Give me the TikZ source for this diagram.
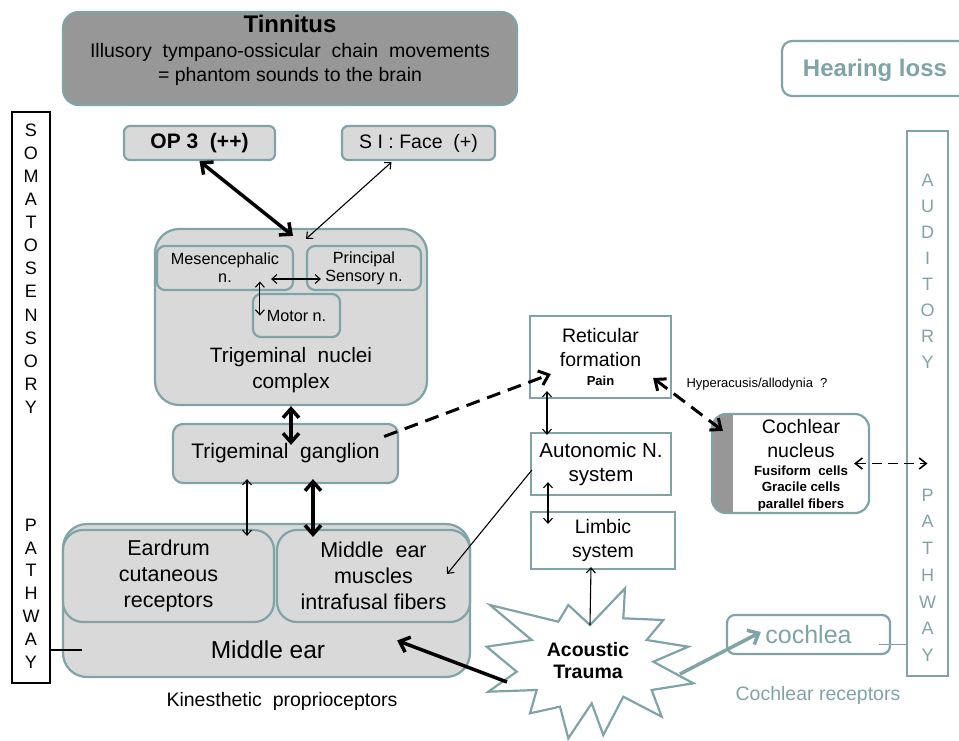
\documentclass[tikz,border=0pt]{standalone}
\usepackage{fontspec}
\setmainfont{Liberation Sans}
\usetikzlibrary{arrows.meta,positioning,calc}
\definecolor{tealg}{HTML}{7FA3A6}
\definecolor{boxgray}{HTML}{D9D9D9}
\definecolor{tbdark}{HTML}{979797}
\newcommand{\setfs}[2]{\fontsize{#1}{#2}\selectfont}

\begin{document}
\begin{tikzpicture}[x=1pt,y=-1pt,
gbox/.style={draw=tealg,fill=boxgray,line width=2.2pt,rounded corners=8pt,align=center,inner sep=0pt},
wbox/.style={draw=tealg,fill=white,line width=2.2pt,align=center,inner sep=0pt},
lbl/.style={align=center,inner sep=0pt},
arr/.style={-{Straight Barb[length=5pt,width=9pt]},line width=1.1pt},
dbl/.style={{Straight Barb[length=5pt,width=9pt]}-{Straight Barb[length=5pt,width=9pt]},line width=1.1pt},
arrthk/.style={-{Straight Barb[length=9pt,width=16pt]},line width=3.5pt},
dblthk/.style={{Straight Barb[length=9pt,width=16pt]}-{Straight Barb[length=9pt,width=16pt]},line width=3.5pt},
dasharr/.style={-{Straight Barb[length=9pt,width=15pt]},line width=3pt,dash pattern=on 14pt off 8pt}
]
\useasboundingbox (0,0) rectangle (959,740);

% top row
\node[gbox,fill=tbdark,rounded corners=16pt,minimum width=454pt,minimum height=93pt] (tinnitus) at (290,58.5) {};
\node[lbl,font=\setfs{19.5}{24}] (tintext) at (290,50) {{\setfs{24}{24}\bfseries Tinnitus}\\[1pt]Illusory~ tympano-ossicular~ chain~ movements\\= phantom sounds to the brain};
\node[gbox,rounded corners=6pt,minimum width=151pt,minimum height=34pt,font=\setfs{21}{24}\bfseries] (op3) at (199.5,143) {OP 3~ (++)};
\node[gbox,rounded corners=6pt,minimum width=153pt,minimum height=34pt,font=\setfs{19.5}{22}] (siface) at (418.5,143) {S I : Face~ (+)};
\node[wbox,rounded corners=10pt,minimum width=205pt,minimum height=55pt,text=tealg] (hearloss) at (884.5,68.5) {};
\node[lbl,font=\setfs{24}{26}\bfseries,text=tealg] (hltext) at (875,70) {Hearing loss};

% trigeminal nuclei
\node[gbox,rounded corners=24pt,minimum width=272pt,minimum height=176pt] (tcomplex) at (291,317) {};
\node[gbox,minimum width=136pt,minimum height=44pt,font=\setfs{16.2}{18}] (mesen) at (225,268) {Mesencephalic\\n.};
\node[gbox,minimum width=114pt,minimum height=44pt,font=\setfs{16.2}{18}] (princ) at (364,268) {Principal\\Sensory n.};
\node[gbox,minimum width=87pt,minimum height=43pt,font=\setfs{16.2}{18}] (motor) at (296.5,315.5) {Motor n.};
\node[lbl,font=\setfs{20.8}{26}] (tctext) at (291,370) {Trigeminal~ nuclei\\complex};
\node[gbox,rounded corners=10pt,minimum width=225pt,minimum height=59pt,font=\setfs{21}{24}] (ganglion) at (285.5,453.5) {Trigeminal~ ganglion};

% middle ear
\node[gbox,rounded corners=24pt,minimum width=407pt,minimum height=153pt] (midear) at (266.5,600.5) {};
\node[gbox,rounded corners=20pt,minimum width=211pt,minimum height=92pt,font=\setfs{21.5}{26}] (eardrum) at (168.5,576) {Eardrum\\cutaneous\\receptors};
\node[gbox,rounded corners=20pt,minimum width=193pt,minimum height=92pt,font=\setfs{21.5}{26}] (muscles) at (373.5,576) {Middle~ ear\\muscles\\intrafusal fibers};
\node[lbl,font=\setfs{24.5}{26}] (metext) at (268,650) {Middle ear};
\node[lbl,font=\setfs{19.5}{22}] (kinesth) at (282,701) {Kinesthetic~ proprioceptors};

% pathways
\node[draw,line width=1.5pt,minimum width=38pt,minimum height=571pt] (somato) at (31,397.5) {};
\foreach \l [count=\i] in {S,O,M,A,T,O,S,E,N,S,O,R,Y}
  \node[lbl,font=\setfs{18}{20}] (soma\i) at (31,{130+23.1*(\i-1)}) {\l};
\foreach \l [count=\i] in {P,A,T,H,W,A,Y}
  \node[lbl,font=\setfs{18}{20}] (somb\i) at (31,{525+22.8*(\i-1)}) {\l};
\node[draw=tealg,line width=1.5pt,minimum width=41pt,minimum height=545pt] (audit) at (927.5,403.5) {};
\foreach \l [count=\i] in {A,U,D,I,T,O,R,Y}
  \node[lbl,font=\setfs{18}{20},text=tealg] (auda\i) at (927.5,{180+26.1*(\i-1)}) {\l};
\foreach \l [count=\i] in {P,A,T,H,W,A,Y}
  \node[lbl,font=\setfs{18}{20},text=tealg] (audb\i) at (927.5,{495+26.7*(\i-1)}) {\l};

% brainstem boxes
\node[wbox,minimum width=141pt,minimum height=82pt,font=\setfs{19.5}{24}] (retic) at (600.5,357) {Reticular\\formation\\[-5pt]{\setfs{13}{14}\bfseries Pain}};
\node[wbox,minimum width=140pt,minimum height=62pt,font=\setfs{20.5}{24}] (auton) at (601,464) {Autonomic N.\\system};
\node[wbox,minimum width=144pt,minimum height=57pt,font=\setfs{19.5}{24}] (limbic) at (603,540.5) {Limbic\\system};
\node[wbox,rounded corners=14pt,minimum width=157pt,minimum height=99pt,
  path picture={\fill[tbdark,sharp corners] (path picture bounding box.north west) rectangle ([xshift=21pt]path picture bounding box.south west);}] (cochnuc) at (790.5,463.5) {};
\node[lbl,font=\setfs{13.3}{16.5}\bfseries] (cntext) at (801,465) {{\setfs{19.5}{24}\mdseries Cochlear}\\[8pt]{\setfs{19.5}{24}\mdseries nucleus}\\[1pt]Fusiform~ cells\\Gracile cells\\parallel fibers};
\node[lbl,font=\setfs{13}{14}] (hyper) at (757,384) {Hyperacusis/allodynia~ ?};

% cochlea
\node[wbox,rounded corners=8pt,minimum width=163pt,minimum height=39pt,font=\setfs{25}{26},text=tealg] (cochlea) at (808.5,634.5) {cochlea};
\node[lbl,font=\setfs{19.5}{22},text=tealg] (cochrec) at (818,695) {Cochlear receptors};

% acoustic trauma
\draw[tealg,line width=2.2pt,fill=white,line join=miter] plot coordinates {(490,605) (558.3,621.7) (568.3,605) (590,625) (625,588.3) (623.3,618.3) (663.3,620) (646.7,640) (688.3,646.7) (653.3,661.7) (693.3,683.3) (651.7,690) (661.7,716.7) (623.3,696.7) (603.3,735) (591.7,703.3) (568.3,738.3) (560,706.7) (530,713.3) (536.7,690) (488.3,691.7) (516.7,671.7) (486.7,646.7) (531.7,640)} -- cycle;
\node[lbl,font=\setfs{19.5}{22}\bfseries] (trauma) at (588,661) {Acoustic\\Trauma};

% connectors
\draw[dblthk] (op3.south) -- ($(tcomplex.north)+(2,8)$);
\draw[dbl] ($(siface.south)+(-27,1)$) -- ($(tcomplex.north)+(15,11)$);
\draw[dbl] ($(mesen.east)+(-23,11)$) -- ($(princ.west)+(15,11)$);
\draw[dbl] ($(motor.west)+(8,-34)$) -- ($(motor.west)+(8,0)$);
\draw[dblthk] (tcomplex.south) -- ($(ganglion.north)+(5.5,22)$);
\draw[dbl] ($(ganglion.south)+(-38.5,-5)$) -- ($(eardrum.north)+(78.5,7)$);
\draw[dblthk] ($(ganglion.south)+(27.5,-5)$) -- ($(muscles.north)+(-60.5,8)$);
\draw[dasharr] ($(ganglion.east)+(-15,-17)$) -- ($(retic.west)+(22,17)$);
\draw[dbl] ($(retic.south)+(-53.5,-8)$) -- ($(auton.north)+(-54,3)$);
\draw[dbl] ($(auton.south)+(-53,-14)$) -- ($(limbic.north)+(-55,13)$);
\draw[arr] ($(auton.west)+(2,6)$) -- ($(muscles.east)+(-24,-2)$);
\draw[{Straight Barb[length=9pt,width=15pt]}-{Straight Barb[length=9pt,width=15pt]},line width=3pt,dash pattern=on 14pt off 8pt] ($(retic.east)+(-19,21)$) -- ($(cochnuc.north west)+(12,18)$);
\draw[{Straight Barb[length=7pt,width=11pt]}-{Straight Barb[length=7pt,width=11pt]},line width=1.6pt,dash pattern=on 10pt off 6pt] ($(cochnuc.east)+(-16,0)$) -- (audit.center |- cochnuc.east);
\draw[arr] ($(trauma.center)+(2,-36)$) -- ($(limbic.south)+(-12,-3)$);
\draw[arrthk] ($(trauma.center)+(-81,21)$) -- ($(midear.east)+(-74,40)$);
\draw[arrthk,tealg] ($(trauma.center)+(92,13)$) -- ($(cochlea.west)+(35,-2.5)$);
\draw[line width=1.1pt] (somato.east |- metext) -- +(31,0);
\draw[tealg,line width=1.3pt] ($(audit.west |- cochlea)+(0,10)$) -- +(-27,0);
\end{tikzpicture}
\end{document}
